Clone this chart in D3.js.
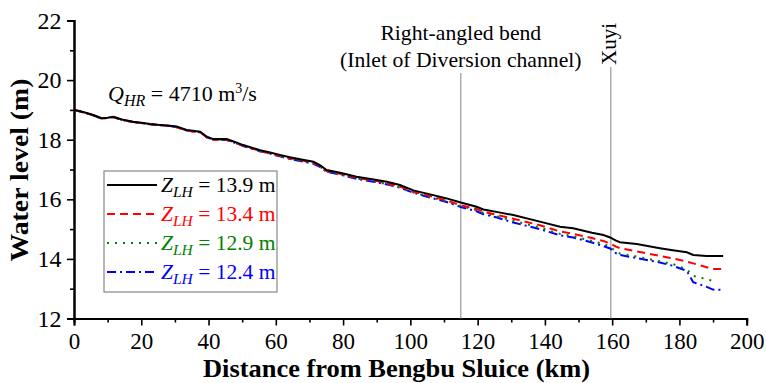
<!DOCTYPE html>
<html><head><meta charset="utf-8">
<script src="https://cdn.jsdelivr.net/npm/d3@7"></script>
<style>
body{margin:0;background:#fff;}
svg text{font-family:'Liberation Serif','Times New Roman','DejaVu Serif',serif !important;}
</style></head>
<body><svg id="c" width="766" height="383"></svg>
<script>
// ---- data ----
const distance = [0,1.3,3,5.7,8.2,10,11.7,14.2,17.6,20,22.6,25,28.5,30.5,33.5,36,37.5,39.5,41.4,45.4,48,50.3,55.3,58,61.2,64.2,68,71.2,73.1,75.1,79.1,84,90,93,96.9,100.9,106.8,110.8,115,119.7,121.7,126,130.6,138.5,144.5,148.4,154,157.4,159.4,161,162.3,167.3,174.2,178,182.2,184.1,188.1,190,193];
const z139 = [19.00,18.97,18.92,18.83,18.72,18.74,18.77,18.68,18.60,18.57,18.53,18.50,18.47,18.44,18.33,18.29,18.27,18.10,18.02,18.02,17.92,17.82,17.65,17.58,17.49,17.41,17.33,17.26,17.15,16.98,16.89,16.76,16.65,16.59,16.48,16.30,16.14,16.03,15.89,15.75,15.66,15.57,15.47,15.25,15.08,15.03,14.88,14.80,14.72,14.62,14.56,14.50,14.36,14.29,14.22,14.13,14.10,14.10,14.10];
const z134 = [19.00,18.96,18.91,18.82,18.71,18.73,18.76,18.67,18.59,18.56,18.52,18.49,18.46,18.42,18.31,18.27,18.25,18.08,18.00,18.00,17.90,17.80,17.62,17.55,17.46,17.38,17.30,17.22,17.12,16.95,16.86,16.72,16.61,16.54,16.43,16.25,16.08,15.96,15.80,15.68,15.58,15.47,15.35,15.13,14.92,14.84,14.70,14.60,14.52,14.42,14.36,14.25,14.10,14.02,13.91,13.85,13.72,13.66,13.66];
const z129 = [19.00,18.96,18.91,18.82,18.71,18.73,18.76,18.67,18.59,18.56,18.52,18.49,18.46,18.42,18.31,18.27,18.25,18.08,18.00,17.99,17.89,17.79,17.61,17.54,17.45,17.36,17.28,17.20,17.10,16.93,16.84,16.70,16.58,16.51,16.40,16.23,16.05,15.93,15.77,15.64,15.54,15.42,15.28,15.05,14.84,14.76,14.60,14.50,14.42,14.25,14.18,14.08,13.92,13.83,13.65,13.43,13.32,13.26,null];
const z124 = [19.00,18.96,18.91,18.82,18.71,18.73,18.76,18.67,18.59,18.56,18.52,18.49,18.46,18.42,18.31,18.27,18.25,18.08,18.00,17.99,17.89,17.79,17.61,17.54,17.44,17.35,17.27,17.19,17.09,16.92,16.83,16.69,16.57,16.50,16.39,16.22,16.03,15.91,15.74,15.60,15.50,15.38,15.22,15.00,14.79,14.72,14.55,14.43,14.35,14.20,14.13,14.03,13.88,13.77,13.60,13.22,13.06,12.97,12.96];
const seriesNames = ["13.9","13.4","12.9","12.4"];
const seriesValues = [z139,z134,z129,z124];
const seriesColors = ["#000000","#ff0000","#008000","#0000ff"];
const seriesDash = [null,"8,5","2,6","9,4,2,4"];
const xTicks = [0,20,40,60,80,100,120,140,160,180,200];
const yTicks = [12,14,16,18,20,22];
const markers = [{km:115,label:["Right-angled bend","(Inlet of Diversion channel)"]},{km:159.6,label:["Xuyi"]}];

const FF = "'Liberation Serif','Times New Roman','DejaVu Serif',serif";
// ---- layout ----
const svg = d3.select("#c");
const m = {l:74,r:19.3,t:20.5,b:64.5};
const W = 766, H = 383;
const x = d3.scaleLinear().domain([0,200]).range([m.l, W-m.r]);
const y = d3.scaleLinear().domain([12,22]).range([H-m.b, m.t]);

const gx = svg.append("g").attr("transform",`translate(0,${H-m.b})`);
gx.call(d3.axisBottom(x).tickValues(d3.range(10,200,20)).tickSize(4).tickFormat(""));
gx.append("g").call(d3.axisBottom(x).tickValues(xTicks).tickSize(7).tickFormat(d3.format("d")));
gx.selectAll("text").attr("font-size",23).attr("fill","#000").attr("dy","0.9em");
const gy = svg.append("g").attr("transform",`translate(${m.l},0)`);
gy.call(d3.axisLeft(y).tickValues(d3.range(13,22,2)).tickSize(4).tickFormat(""));
gy.append("g").call(d3.axisLeft(y).tickValues(yTicks).tickSize(7).tickFormat(d3.format("d")));
gy.selectAll("text").attr("font-size",24).attr("fill","#000").attr("dx","-0.1em");
svg.selectAll("g").attr("font-family",FF);
svg.selectAll(".domain").attr("stroke","#000").attr("stroke-width",2);
svg.selectAll(".tick line").attr("stroke","#000").attr("stroke-width",1.6);

// marker lines
svg.append("line").attr("x1",x(markers[0].km)).attr("x2",x(markers[0].km)).attr("y1",73).attr("y2",H-m.b).attr("stroke","#999").attr("stroke-width",1.2);
svg.append("line").attr("x1",x(markers[1].km)).attr("x2",x(markers[1].km)).attr("y1",67).attr("y2",H-m.b).attr("stroke","#999").attr("stroke-width",1.2);
svg.append("text").attr("x",x(115)).attr("y",40).attr("text-anchor","middle").attr("font-size",21.7).text(markers[0].label[0]);
svg.append("text").attr("x",x(115)).attr("y",67).attr("text-anchor","middle").attr("font-size",21.7).text(markers[0].label[1]);
svg.append("text").attr("transform",`translate(${x(markers[1].km)+5},65) rotate(-90)`).attr("font-size",21).text(markers[1].label[0]);

// lines
const line = d3.line().defined(d=>d[1]!=null).x(d=>x(d[0])).y(d=>y(d[1]));
[3,2,1,0].forEach(i=>{
  const pts = distance.map((d,j)=>[d,seriesValues[i][j]]);
  svg.append("path").attr("d",line(pts)).attr("fill","none")
    .attr("stroke",seriesColors[i]).attr("stroke-width",2)
    .attr("stroke-dasharray",seriesDash[i]);
});

// Q label
const q = svg.append("text").attr("x",108).attr("y",101).attr("font-size",22);
q.append("tspan").attr("font-style","italic").text("Q");
q.append("tspan").attr("font-style","italic").attr("font-size",16).attr("dy",5).text("HR");
q.append("tspan").attr("dy",-5).text(" = 4710 m");
q.append("tspan").attr("font-size",14).attr("dy",-8).text("3");
q.append("tspan").attr("dy",8).text("/s");

// legend
svg.append("rect").attr("x",104).attr("y",171).attr("width",173).attr("height",121)
  .attr("fill","#fff").attr("stroke","#888").attr("stroke-width",1.2);
seriesNames.forEach((n,i)=>{
  const ly = 185 + i*29;
  svg.append("line").attr("x1",107).attr("x2",157).attr("y1",ly).attr("y2",ly)
    .attr("stroke",seriesColors[i]).attr("stroke-width",2).attr("stroke-dasharray",seriesDash[i]);
  const t = svg.append("text").attr("x",161).attr("y",ly+7).attr("font-size",21.5).attr("fill",seriesColors[i]);
  t.append("tspan").attr("font-style","italic").text("Z");
  t.append("tspan").attr("font-style","italic").attr("font-size",15.5).attr("dy",5).text("LH");
  t.append("tspan").attr("dy",-5).text(" = " + n + " m");
});

// axis titles
svg.append("text").attr("x",396.5).attr("y",376.5).attr("text-anchor","middle")
  .attr("font-size",25).attr("font-weight","bold")
  .attr("textLength",387).attr("lengthAdjust","spacingAndGlyphs")
  .text("Distance from Bengbu Sluice (km)");
svg.append("text").attr("transform",`translate(28,170) rotate(-90)`).attr("text-anchor","middle")
  .attr("font-size",25).attr("font-weight","bold")
  .attr("textLength",183).attr("lengthAdjust","spacingAndGlyphs")
  .text("Water level (m)");
svg.selectAll("text").attr("font-family",FF);
</script></body></html>
